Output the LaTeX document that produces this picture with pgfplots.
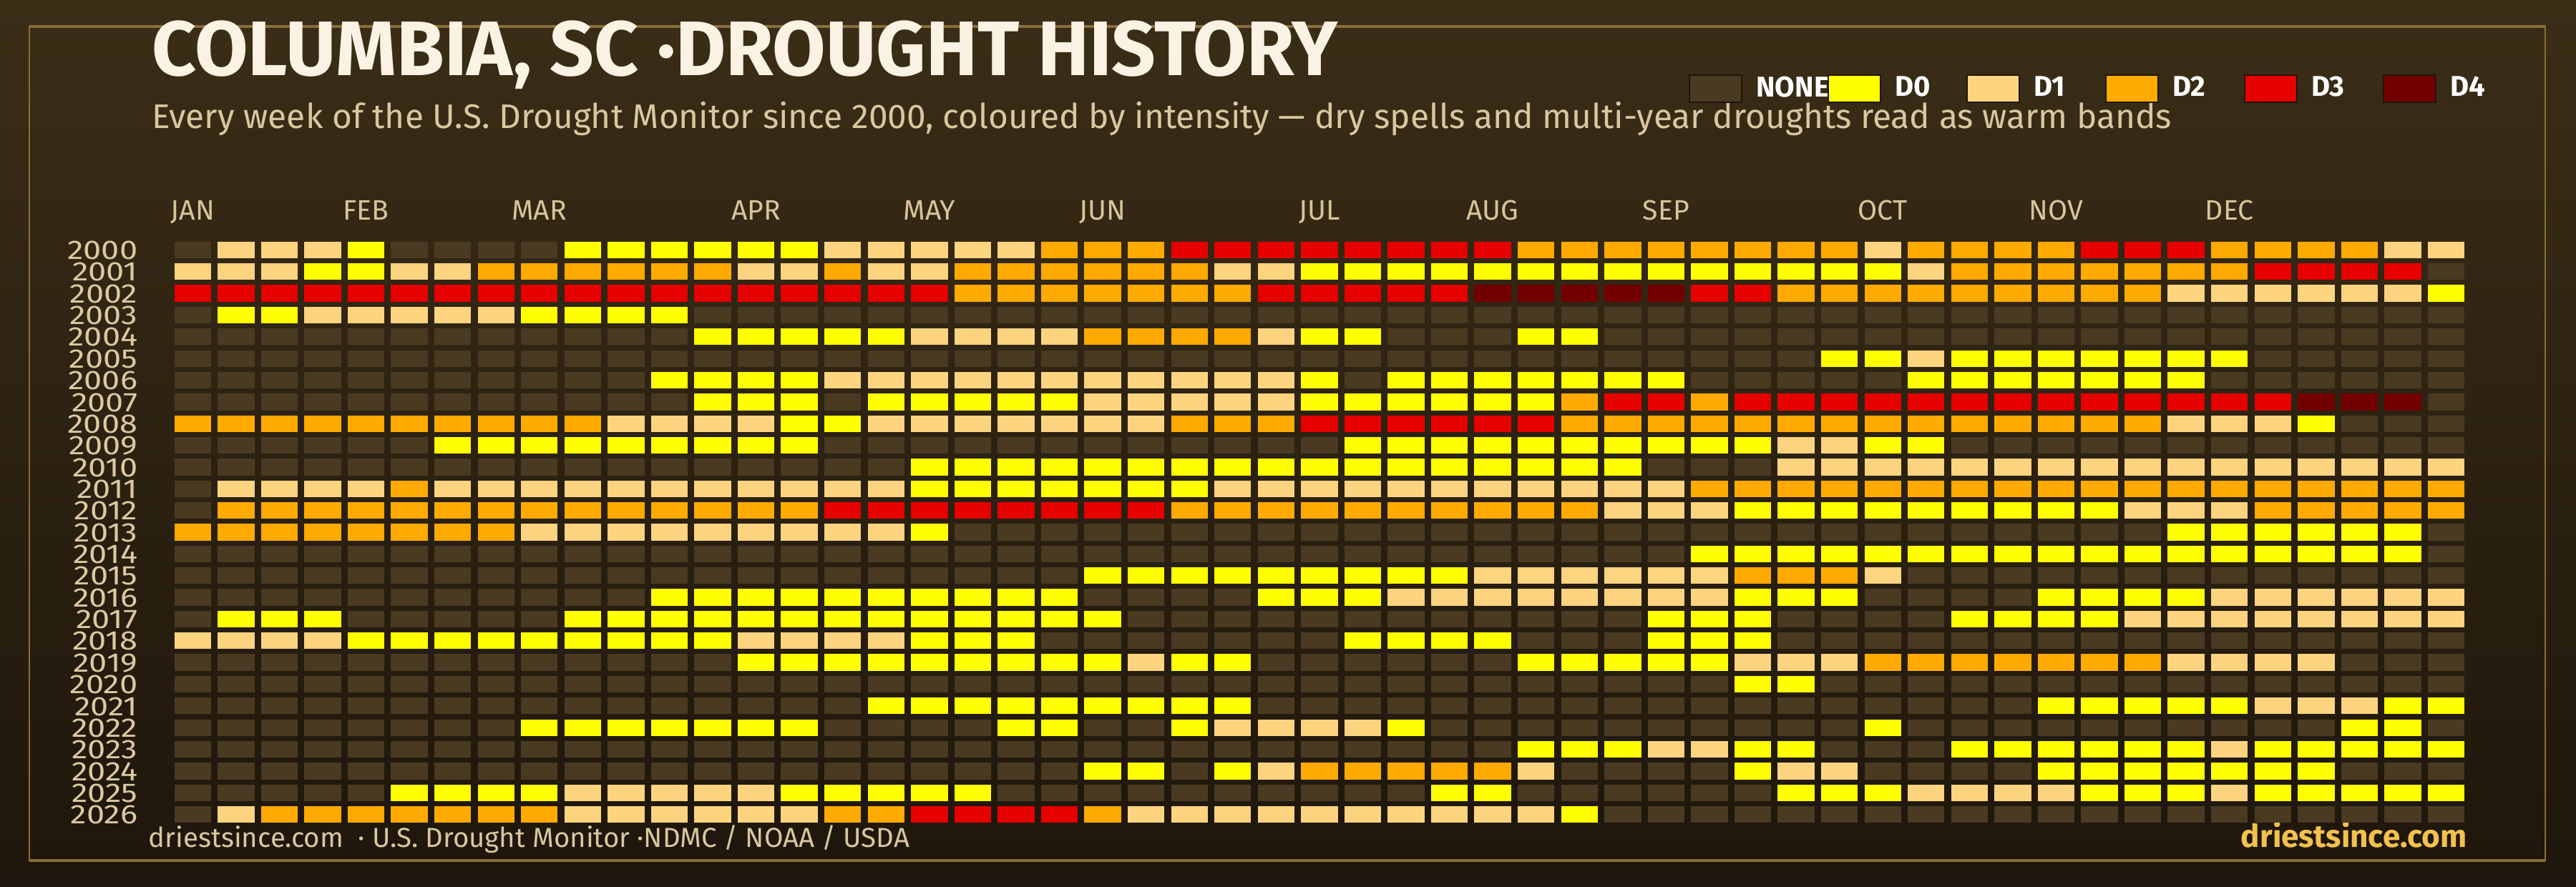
\documentclass[border=0pt]{standalone}
\usepackage{pgfplots}
\usepackage{pgfplotstable}
\pgfplotsset{compat=1.18}
\usepackage{fontspec}
\setmainfont{Fira Sans}
\newfontfamily\yearfont{Fira Sans}[FakeStretch=1.2]
\definecolor{bgtop}{HTML}{3B2E17}
\definecolor{bgbot}{HTML}{1E160C}
\definecolor{cnone}{HTML}{493A21}
\definecolor{cd0}{HTML}{FFFF00}
\definecolor{cd1}{HTML}{FCD37F}
\definecolor{cd2}{HTML}{FFAA00}
\definecolor{cd3}{HTML}{E60000}
\definecolor{cd4}{HTML}{730000}
\definecolor{framec}{HTML}{8A6D3B}
\definecolor{titlec}{HTML}{FAF2E2}
\definecolor{subc}{HTML}{D9C7A0}
\definecolor{monthc}{HTML}{D8C49C}
\definecolor{yearc}{HTML}{DCC9A2}
\definecolor{goldc}{HTML}{F2C14E}
\definecolor{legedge}{HTML}{1E160C}

\pgfdeclareplotmark{cell}{\pgfpathrectangle{\pgfqpoint{-6.425pt}{-2.9125pt}}{\pgfqpoint{12.85pt}{5.825pt}}\pgfusepathqfill}

% 0 = none, 1 = D0, 2 = D1, 3 = D2, 4 = D3, 5 = D4
\pgfplotstableread{
year w0 w1 w2 w3 w4 w5 w6 w7 w8 w9 w10 w11 w12 w13 w14 w15 w16 w17 w18 w19 w20 w21 w22 w23 w24 w25 w26 w27 w28 w29 w30 w31 w32 w33 w34 w35 w36 w37 w38 w39 w40 w41 w42 w43 w44 w45 w46 w47 w48 w49 w50 w51 w52
2000 0 2 2 2 1 0 0 0 0 1 1 1 1 1 1 2 2 2  2 2 3 3 3 4 4 4 4 4 4 4 4 3 3 3 3 3  3 3 3 2 3 3 3 3 4 4 4 3 3 3 3 2 2
2001 2 2 2 1 1 2 2 3 3 3 3 3 3 2 2 3 2 2  3 3 3 3 3 3 2 2 1 1 1 1 1 1 1 1 1 1  1 1 1 1 2 3 3 3 3 3 3 3 4 4 4 4 0
2002 4 4 4 4 4 4 4 4 4 4 4 4 4 4 4 4 4 4  3 3 3 3 3 3 3 4 4 4 4 4 5 5 5 5 5 4  4 3 3 3 3 3 3 3 3 3 2 2 2 2 2 2 1
2003 0 1 1 2 2 2 2 2 1 1 1 1 0 0 0 0 0 0  0 0 0 0 0 0 0 0 0 0 0 0 0 0 0 0 0 0  0 0 0 0 0 0 0 0 0 0 0 0 0 0 0 0 0
2004 0 0 0 0 0 0 0 0 0 0 0 0 1 1 1 1 1 2  2 2 2 3 3 3 3 2 1 1 0 0 0 1 1 0 0 0  0 0 0 0 0 0 0 0 0 0 0 0 0 0 0 0 0
2005 0 0 0 0 0 0 0 0 0 0 0 0 0 0 0 0 0 0  0 0 0 0 0 0 0 0 0 0 0 0 0 0 0 0 0 0  0 0 1 1 2 1 1 1 1 1 1 1 0 0 0 0 0
2006 0 0 0 0 0 0 0 0 0 0 0 1 1 1 1 2 2 2  2 2 2 2 2 2 2 2 1 0 1 1 1 1 1 1 1 0  0 0 0 0 1 1 1 1 1 1 1 0 0 0 0 0 0
2007 0 0 0 0 0 0 0 0 0 0 0 0 1 1 1 0 1 1  1 1 1 2 2 2 2 2 1 1 1 1 1 1 3 4 4 3  4 4 4 4 4 4 4 4 4 4 4 4 4 5 5 5 0
2008 3 3 3 3 3 3 3 3 3 3 2 2 2 2 1 1 2 2  2 2 2 2 2 3 3 3 4 4 4 4 4 4 3 3 3 3  3 3 3 3 3 3 3 3 3 3 2 2 2 1 0 0 0
2009 0 0 0 0 0 0 1 1 1 1 1 1 1 1 1 0 0 0  0 0 0 0 0 0 0 0 0 1 1 1 1 1 1 1 1 1  1 2 2 1 1 0 0 0 0 0 0 0 0 0 0 0 0
2010 0 0 0 0 0 0 0 0 0 0 0 0 0 0 0 0 0 1  1 1 1 1 1 1 1 1 1 1 1 1 1 1 1 1 0 0  0 2 2 2 2 2 2 2 2 2 2 2 2 2 2 2 2
2011 0 2 2 2 2 3 2 2 2 2 2 2 2 2 2 2 2 1  1 1 1 1 1 1 2 2 2 2 2 2 2 2 2 2 2 3  3 3 3 3 3 3 3 3 3 3 3 3 3 3 3 3 3
2012 0 3 3 3 3 3 3 3 3 3 3 3 3 3 3 4 4 4  4 4 4 4 4 3 3 3 3 3 3 3 3 3 3 2 2 2  1 1 1 1 1 1 1 1 1 2 2 2 3 3 3 3 3
2013 3 3 3 3 3 3 3 3 2 2 2 2 2 2 2 2 2 1  0 0 0 0 0 0 0 0 0 0 0 0 0 0 0 0 0 0  0 0 0 0 0 0 0 0 0 0 1 1 1 1 1 1 0
2014 0 0 0 0 0 0 0 0 0 0 0 0 0 0 0 0 0 0  0 0 0 0 0 0 0 0 0 0 0 0 0 0 0 0 0 1  1 1 1 1 1 1 1 1 1 1 1 1 1 1 1 1 0
2015 0 0 0 0 0 0 0 0 0 0 0 0 0 0 0 0 0 0  0 0 0 1 1 1 1 1 1 1 1 1 2 2 2 2 2 2  3 3 3 2 0 0 0 0 0 0 0 0 0 0 0 0 0
2016 0 0 0 0 0 0 0 0 0 0 0 1 1 1 1 1 1 1  1 1 1 0 0 0 0 1 1 1 2 2 2 2 2 2 2 2  1 1 1 0 0 0 0 1 1 1 1 2 2 2 2 2 2
2017 0 1 1 1 0 0 0 0 0 1 1 1 1 1 1 1 1 1  1 1 1 1 0 0 0 0 0 0 0 0 0 0 0 0 1 1  1 0 0 0 0 1 1 1 1 2 2 2 2 2 2 2 2
2018 2 2 2 2 1 1 1 1 1 1 1 1 1 2 2 2 2 1  1 1 0 0 0 0 0 0 0 1 1 1 1 0 0 0 1 1  1 0 0 0 0 0 0 0 0 0 0 0 0 0 0 0 0
2019 0 0 0 0 0 0 0 0 0 0 0 0 0 1 1 1 1 1  1 1 1 1 2 1 1 0 0 0 0 0 0 1 1 1 1 1  2 2 2 3 3 3 3 3 3 3 2 2 2 2 0 0 0
2020 0 0 0 0 0 0 0 0 0 0 0 0 0 0 0 0 0 0  0 0 0 0 0 0 0 0 0 0 0 0 0 0 0 0 0 0  1 1 0 0 0 0 0 0 0 0 0 0 0 0 0 0 0
2021 0 0 0 0 0 0 0 0 0 0 0 0 0 0 0 0 1 1  1 1 1 1 1 1 1 0 0 0 0 0 0 0 0 0 0 0  0 0 0 0 0 0 0 1 1 1 1 1 2 2 2 1 1
2022 0 0 0 0 0 0 0 0 1 1 1 1 1 1 1 0 0 0  0 1 1 0 0 1 2 2 2 2 1 0 0 0 0 0 0 0  0 0 0 1 0 0 0 0 0 0 0 0 0 0 1 1 0
2023 0 0 0 0 0 0 0 0 0 0 0 0 0 0 0 0 0 0  0 0 0 0 0 0 0 0 0 0 0 0 0 1 1 1 2 2  1 1 0 0 0 1 1 1 1 1 1 2 1 1 1 1 1
2024 0 0 0 0 0 0 0 0 0 0 0 0 0 0 0 0 0 0  0 0 0 1 1 0 1 2 3 3 3 3 3 2 0 0 0 0  1 2 2 0 0 0 0 1 1 1 1 1 1 1 0 0 0
2025 0 0 0 0 0 1 1 1 1 2 2 2 2 2 1 1 1 1  1 0 0 0 0 0 0 0 0 0 0 1 1 0 0 0 0 0  0 1 1 1 2 2 2 2 1 1 1 2 1 1 1 1 1
2026 0 2 3 3 3 3 3 3 3 2 2 2 2 2 2 3 3 4  4 4 4 3 2 2 2 2 2 2 2 2 2 2 1 0 0 0  0 0 0 0 0 0 0 0 0 0 0 0 0 0 0 0 0
}\drought

\begin{document}
\begin{tikzpicture}[x=1pt,y=1pt]
\shade[top color=bgtop, bottom color=bgbot] (0,0) rectangle (900,310);
\draw[framec, line width=0.55pt] (10.25,9.25) rectangle (889.25,300.75);
\draw[framec, line width=1.1pt] (10.25,300.75) -- (889.25,300.75);
\draw[framec, line width=1.1pt] (10.25,9.25) -- (889.25,9.25);
\node[anchor=base west, inner sep=0pt, text=titlec, font=\bfseries\fontsize{27}{30}\selectfont] at (52.8,283.6) {COLUMBIA, SC ·DROUGHT HISTORY};
\node[anchor=base west, inner sep=0pt, text=subc, font=\fontsize{11.95}{14}\selectfont] at (52.8,265) {Every week of the U.S. Drought Monitor since 2000, coloured by intensity — dry spells and multi-year droughts read as warm bands};
\node[anchor=base west, inner sep=0pt, text=subc, font=\fontsize{9.6}{11}\selectfont] at (51.75,13.75) {driestsince.com \ · U.S. Drought Monitor ·NDMC / NOAA / USDA};
\node[anchor=base east, inner sep=0pt, text=goldc, font=\bfseries\fontsize{11}{13}\selectfont] at (862,13.75) {driestsince.com};
\begin{axis}[
  at={(59.75pt,21.55pt)}, anchor=south west,
  scale only axis, width=802.45pt, height=204.9pt,
  xmin=-0.5, xmax=52.5, ymin=1999.5, ymax=2026.5, y dir=reverse,
  axis line style={draw=none}, tick style={draw=none},
  clip=false,
  xtick={0,4,8,13,17,21,26,30,34,39,43,47},
  xticklabels={JAN,FEB,MAR,APR,MAY,JUN,JUL,AUG,SEP,OCT,NOV,DEC},
  xticklabel pos=top,
  xticklabel style={font=\fontsize{9.8}{11}\selectfont, text=monthc, anchor=base, inner sep=0pt, yshift=6.75pt},
  ytick={2000,2001,...,2026},
  yticklabel style={font=\yearfont\fontsize{9.4}{10}\selectfont, text=yearc, anchor=east, inner sep=0pt, text height=6.6pt, text depth=0pt, xshift=-11.5pt},
  /pgf/number format/1000 sep={},
  /pgf/number format/assume math mode=true,
  legend columns=6,
  legend style={at={(0.6608,1.2563)}, anchor=west, draw=none, fill=none,
    inner sep=0pt, outer sep=0pt, column sep=0pt,
    font=\bfseries\fontsize{10}{11}\selectfont, text=white,
    nodes={inner sep=0pt}},
]
\pgfplotsinvokeforeach{0,...,52}{
\addplot[scatter, only marks, forget plot, point meta=explicit symbolic,
  scatter/classes={0={mark=cell,cnone},1={mark=cell,cd0},2={mark=cell,cd1},3={mark=cell,cd2},4={mark=cell,cd3},5={mark=cell,cd4}}]
  table[x expr=#1, y=year, meta=w#1] {\drought};
}
\addlegendimage{legend image code/.code={\filldraw[draw=legedge, line width=0.6pt, fill=cnone] (0pt,-4.75pt) rectangle (18.25pt,4.75pt);}}
\addlegendentry{\hspace{4.75pt}\makebox[24.9pt][l]{NONE}}
\addlegendimage{legend image code/.code={\filldraw[draw=legedge, line width=0.6pt, fill=cd0] (0pt,-4.75pt) rectangle (18.25pt,4.75pt);}}
\addlegendentry{\hspace{4.75pt}\makebox[24.9pt][l]{D0}}
\addlegendimage{legend image code/.code={\filldraw[draw=legedge, line width=0.6pt, fill=cd1] (0pt,-4.75pt) rectangle (18.25pt,4.75pt);}}
\addlegendentry{\hspace{4.75pt}\makebox[24.9pt][l]{D1}}
\addlegendimage{legend image code/.code={\filldraw[draw=legedge, line width=0.6pt, fill=cd2] (0pt,-4.75pt) rectangle (18.25pt,4.75pt);}}
\addlegendentry{\hspace{4.75pt}\makebox[24.9pt][l]{D2}}
\addlegendimage{legend image code/.code={\filldraw[draw=legedge, line width=0.6pt, fill=cd3] (0pt,-4.75pt) rectangle (18.25pt,4.75pt);}}
\addlegendentry{\hspace{4.75pt}\makebox[24.9pt][l]{D3}}
\addlegendimage{legend image code/.code={\filldraw[draw=legedge, line width=0.6pt, fill=cd4] (0pt,-4.75pt) rectangle (18.25pt,4.75pt);}}
\addlegendentry{\hspace{4.75pt}\makebox[24.9pt][l]{D4}}
\end{axis}
\pgfresetboundingbox
\useasboundingbox (0,0) rectangle (900,310);
\end{tikzpicture}
\end{document}
